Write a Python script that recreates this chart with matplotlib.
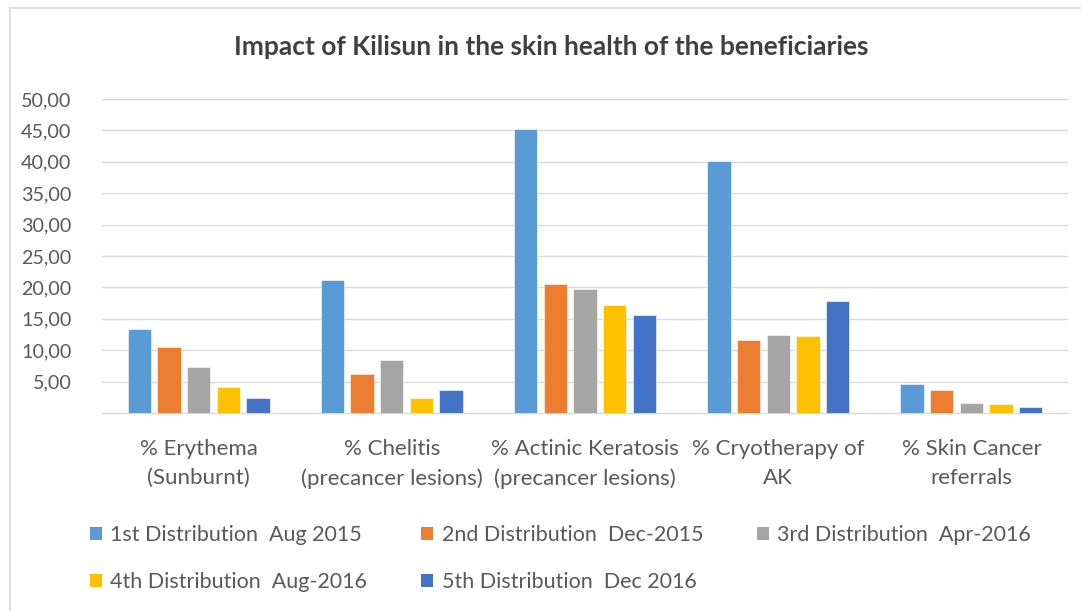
import matplotlib
matplotlib.use("Agg")
import matplotlib.pyplot as plt
from matplotlib.patches import Patch
import numpy as np

categories = ["% Erythema\n(Sunburnt)", "% Chelitis\n(precancer lesions)",
              "% Actinic Keratosis\n(precancer lesions)", "% Cryotherapy of\nAK",
              "% Skin Cancer\nreferrals"]
series_names = ["1st Distribution  Aug 2015", "2nd Distribution  Dec-2015",
                "3rd Distribution  Apr-2016", "4th Distribution  Aug-2016",
                "5th Distribution  Dec 2016"]
dist1 = [13.43, 21.13, 45.17, 40.07, 4.56]
dist2 = [10.51, 6.16, 20.54, 11.68, 3.61]
dist3 = [7.38, 8.49, 19.75, 12.47, 1.59]
dist4 = [4.19, 2.39, 17.20, 12.26, 1.43]
dist5 = [2.39, 3.61, 15.61, 17.83, 1.01]
yticks = [5, 10, 15, 20, 25, 30, 35, 40, 45, 50]
ytick_labels = ["5,00", "10,00", "15,00", "20,00", "25,00", "30,00", "35,00", "40,00", "45,00", "50,00"]
title = "Impact of Kilisun in the skin health of the beneficiaries"

colors = ["#5B9BD5", "#ED7D31", "#A5A5A5", "#FFC000", "#4472C4"]
series = [dist1, dist2, dist3, dist4, dist5]

plt.rcParams['font.family'] = ['Lato', 'DejaVu Sans']
txt = "#595959"

W, H = 1081, 611
fig = plt.figure(figsize=(W / 100, H / 100), dpi=100)
ax = fig.add_axes([102 / W, 1 - 413 / H, (1068 - 102) / W, (413 - 99) / H])

x = np.arange(len(categories))
pitch = 0.1535
bw = 0.121
for i, (vals, c) in enumerate(zip(series, colors)):
    ax.bar(x + (i - 2) * pitch, vals, width=bw, color=c, edgecolor="white",
           linewidth=0.4, zorder=3, label=series_names[i])

ax.set_xlim(-0.5, len(categories) - 0.5)
ax.set_ylim(0, 50)
ax.set_yticks(yticks)
ax.set_yticklabels(ytick_labels)
ax.set_xticks(x)
ax.set_xticklabels(categories, linespacing=1.55)
ax.tick_params(axis='y', length=0, pad=22, labelsize=14.2, labelcolor=txt)
ax.tick_params(axis='x', length=0, pad=19, labelsize=16, labelcolor=txt)
ax.grid(axis='y', color="#D9D9D9", linewidth=1.0, zorder=0)
for s in ["top", "right", "left"]:
    ax.spines[s].set_visible(False)
ax.spines["bottom"].set_color("#D9D9D9")
ax.spines["bottom"].set_linewidth(1.0)

fig.text(551 / W, 1 - 47 / H, title, ha="center", va="center", fontsize=19,
         fontweight="bold", color="#404040")

# legend filled row by row (matplotlib fills column-wise)
order = [0, 3, 1, 4, 2]
handles = [Patch(facecolor=colors[k], edgecolor="none") for k in order]
labels = [series_names[k] for k in order]
leg = fig.legend(handles, labels, ncol=3, loc="upper left",
                 bbox_to_anchor=(90 / W, 1 - 525 / H), frameon=False,
                 fontsize=15.5, handlelength=0.55, handleheight=0.55,
                 handletextpad=0.4, columnspacing=2.5, labelspacing=1.25,
                 borderaxespad=0, borderpad=0, labelcolor=txt)

# chart frame (visible top and left edges)
fig.add_artist(plt.Line2D([9.5 / W, 9.5 / W], [0, 1 - 8 / H], transform=fig.transFigure,
                          color="#D9D9D9", linewidth=1.2))
fig.add_artist(plt.Line2D([9.5 / W, 1], [1 - 8 / H, 1 - 8 / H], transform=fig.transFigure,
                          color="#D9D9D9", linewidth=1.2))

fig.savefig("out.png", dpi=100)
